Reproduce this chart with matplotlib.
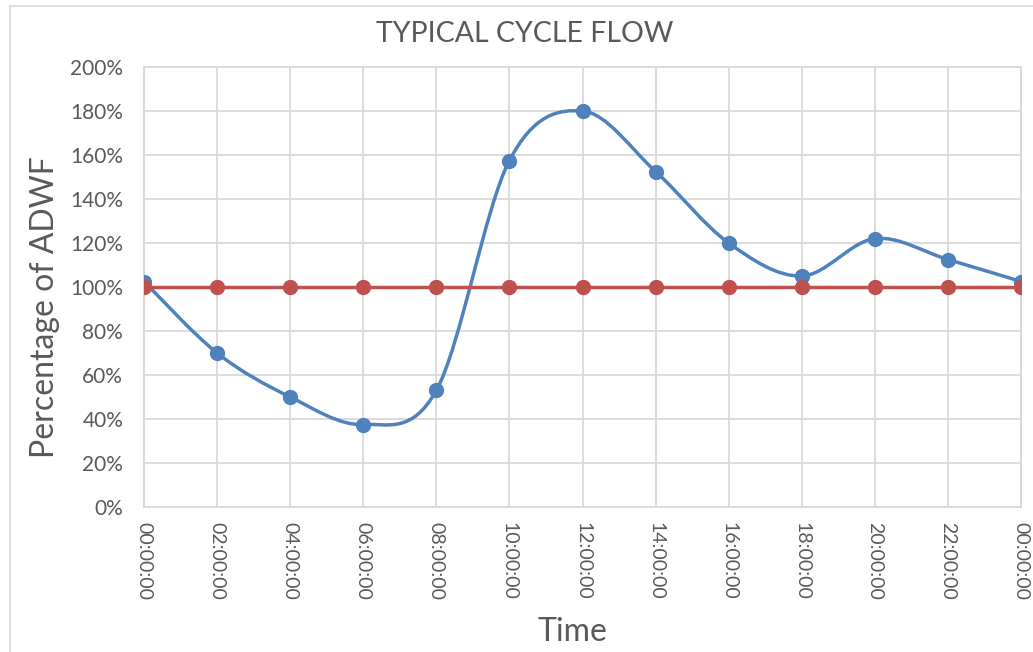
import matplotlib.pyplot as plt
import numpy as np
from matplotlib.path import Path
from matplotlib.patches import PathPatch
from matplotlib.lines import Line2D

hours = [0, 2, 4, 6, 8, 10, 12, 14, 16, 18, 20, 22, 24]
tick_labels = ["00:00:00", "02:00:00", "04:00:00", "06:00:00", "08:00:00",
               "10:00:00", "12:00:00", "14:00:00", "16:00:00", "18:00:00",
               "20:00:00", "22:00:00", "00:00:00"]
flow = [1.025, 0.70, 0.50, 0.375, 0.53, 1.575, 1.80, 1.525, 1.20, 1.05, 1.22, 1.125, 1.025]
adwf = [1.0] * 13

blue = "#4F81BD"
red = "#C0504D"
grid = "#D9D9D9"
txt = "#595959"

plt.rcParams['font.family'] = ['Lato', 'DejaVu Sans']

fig = plt.figure(figsize=(10.33, 6.52), dpi=100)
ax = fig.add_axes([144/1033, 1 - 507/652, (1021-144)/1033, (507-67)/652])

# smooth line like Excel (Catmull-Rom as cubic Bezier)
x = np.array(hours, dtype=float)
y = np.array(flow)
verts = [(x[0], y[0])]
codes = [Path.MOVETO]
n = len(x)
for i in range(n - 1):
    p0 = (x[max(i-1, 0)], y[max(i-1, 0)])
    p1 = (x[i], y[i])
    p2 = (x[i+1], y[i+1])
    p3 = (x[min(i+2, n-1)], y[min(i+2, n-1)])
    c1 = (p1[0] + (p2[0]-p0[0])/6, p1[1] + (p2[1]-p0[1])/6)
    c2 = (p2[0] - (p3[0]-p1[0])/6, p2[1] - (p3[1]-p1[1])/6)
    verts += [c1, c2, p2]
    codes += [Path.CURVE4] * 3
ax.add_patch(PathPatch(Path(verts, codes), facecolor="none", edgecolor=blue, lw=2.5, zorder=3))
ax.plot(hours, flow, "o", color=blue, ms=10, zorder=4)

ax.plot(hours, adwf, "-o", color=red, lw=2.5, ms=10, zorder=5)

ax.set_xlim(0, 24)
ax.set_ylim(0, 2)
ax.set_xticks(hours)
ax.set_xticklabels(tick_labels, rotation=-90, va="top", ha="center")
ax.set_yticks(np.arange(0, 2.01, 0.2))
ax.set_yticklabels([f"{int(round(v*100))}%" for v in np.arange(0, 2.01, 0.2)])
ax.tick_params(length=0, labelcolor=txt)
ax.tick_params(axis="x", labelsize=14, pad=11)
ax.tick_params(axis="y", labelsize=15, pad=15)
ax.grid(True, color=grid, lw=1.3)
ax.set_axisbelow(True)
for s in ax.spines.values():
    s.set_color(grid)
    s.set_linewidth(1.3)

fig.text(572/1033, 1 - 632/652, "Time", fontsize=23, color=txt, ha="center", va="center")
fig.text(45/1033, 1 - 307/652, "Percentage of ADWF", fontsize=23, color=txt,
         ha="center", va="center", rotation=90)
fig.text(525/1033, 1 - 34/652, "TYPICAL CYCLE FLOW", fontsize=20.5, color=txt, ha="center", va="center")

# chart border
fig.add_artist(Line2D([10/1033, 10/1033], [0, 1 - 6/652], color=grid, lw=1.3))
fig.add_artist(Line2D([10/1033, 1], [1 - 6/652, 1 - 6/652], color=grid, lw=1.3))

fig.savefig("out.png", dpi=100)
